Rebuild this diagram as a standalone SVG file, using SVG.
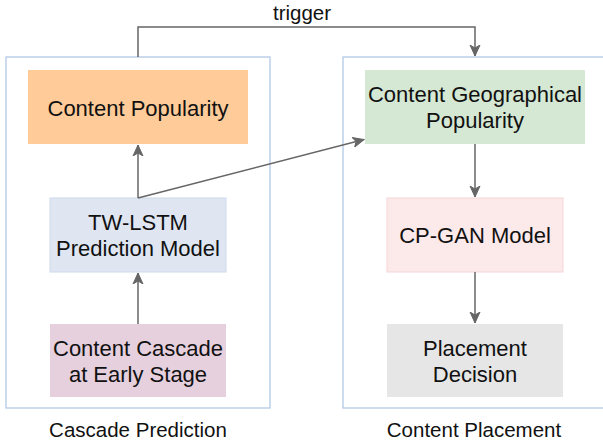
<svg xmlns="http://www.w3.org/2000/svg" width="603" height="447" viewBox="0 0 603 447">
<defs>
<marker id="arr" markerWidth="13" markerHeight="13" viewBox="0 0 13 13" refX="11" refY="6.5" orient="auto" markerUnits="userSpaceOnUse">
<path d="M0,1.5 L11,6.5 L0,11.5 L3,6.5 Z" fill="#666666" stroke="#666666" stroke-width="1"/>
</marker>
</defs>
<style>
text{font-family:"Liberation Sans",Arial,Helvetica,sans-serif;font-size:22px;fill:#111;text-anchor:middle}
.lbl{font-size:20.5px}
.cont{fill:none;stroke:#B3C8E6;stroke-width:1.3}
.edge{fill:none;stroke:#666666;stroke-width:1.5}
</style>
<rect width="603" height="447" fill="#ffffff"/>
<g id="cascade-prediction">
<rect class="cont" x="6" y="57" width="264" height="351"/>
<text class="lbl" x="138" y="437">Cascade Prediction</text>
</g>
<g id="content-placement">
<rect class="cont" x="343" y="57" width="280" height="351"/>
<text class="lbl" x="474" y="437">Content Placement</text>
</g>
<g id="content-popularity">
<rect x="28" y="70" width="220" height="74" fill="#FFCC99"/>
<text x="138" y="116">Content Popularity</text>
</g>
<g id="tw-lstm">
<rect x="50" y="198" width="176" height="74" fill="#DFE6F1" stroke="#CCDAEE" stroke-width="1"/>
<text x="138" y="230">TW-LSTM</text>
<text x="138" y="256">Prediction Model</text>
</g>
<g id="content-cascade">
<rect x="50" y="324" width="176" height="73" fill="#E6D0DE"/>
<text x="138" y="356">Content Cascade</text>
<text x="138" y="382">at Early Stage</text>
</g>
<g id="geo-popularity">
<rect x="365" y="70" width="220" height="74" fill="#D5E8D4"/>
<text x="475" y="102">Content Geographical</text>
<text x="475" y="128">Popularity</text>
</g>
<g id="cp-gan">
<rect x="387" y="198" width="176" height="74" fill="#FCE9E9" stroke="#F5D5D8" stroke-width="1"/>
<text x="475" y="243">CP-GAN Model</text>
</g>
<g id="placement-decision">
<rect x="387" y="324" width="176" height="73" fill="#E6E6E6"/>
<text x="475" y="356">Placement</text>
<text x="475" y="382">Decision</text>
</g>
<g id="connectors">
<path class="edge" d="M138,57 V27 H475 V56" marker-end="url(#arr)"/>
<text class="lbl" x="302" y="20">trigger</text>
<path class="edge" d="M138,198 V145" marker-end="url(#arr)"/>
<path class="edge" d="M138,198 L364,139.5" marker-end="url(#arr)"/>
<path class="edge" d="M138,324 V273" marker-end="url(#arr)"/>
<path class="edge" d="M475,144 V197" marker-end="url(#arr)"/>
<path class="edge" d="M475,272 V323" marker-end="url(#arr)"/>
</g>
</svg>
